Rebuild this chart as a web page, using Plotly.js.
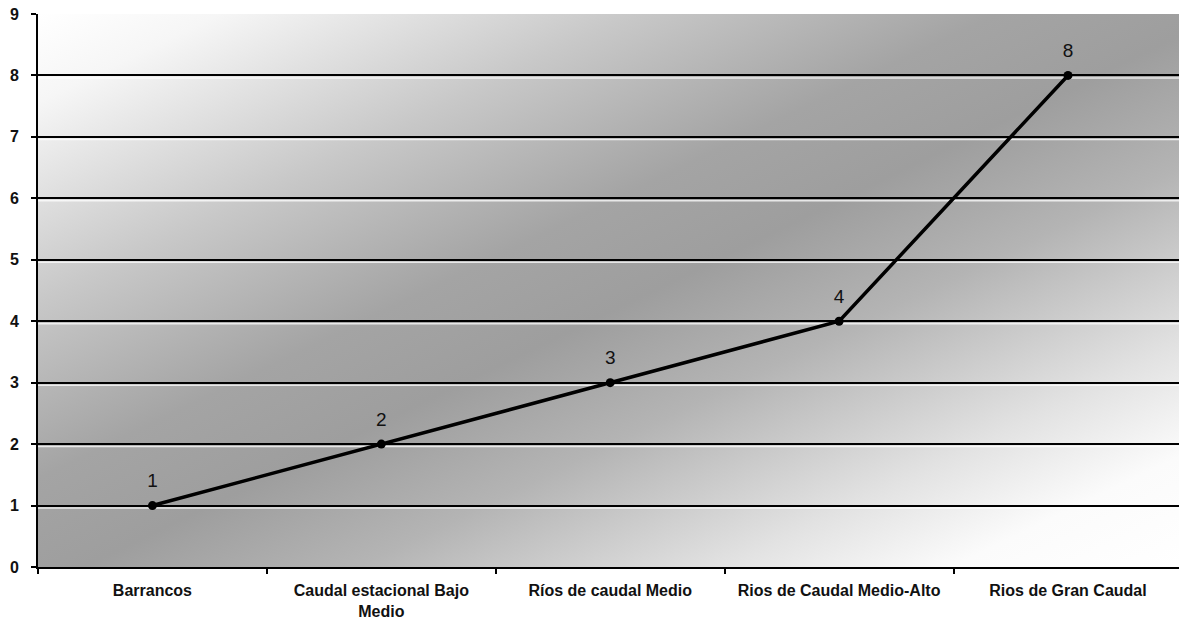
<!DOCTYPE html>
<html>
<head>
<meta charset="utf-8">
<script src="https://cdn.plot.ly/plotly-3.0.1.min.js"></script>
<style>
  html, body { margin: 0; padding: 0; background: #ffffff; }
  #wrap { position: relative; width: 1179px; height: 624px; }
  #bg {
    position: absolute; left: 38px; top: 14px; width: 1141px; height: 553px;
    background: linear-gradient(to bottom right, #ffffff 0%, #f6f6f6 8%, #c8c8c8 26%, #a4a4a4 42%, #9e9e9e 52%, #b4b4b4 64%, #e2e2e2 80%, #fbfbfb 90%, #ffffff 100%);
  }
  #chart { position: absolute; left: 0; top: 0; width: 1179px; height: 624px; }
</style>
</head>
<body>
<div id="wrap">
  <div id="bg"></div>
  <div id="chart"></div>
</div>
<script>
const categories = ["Barrancos", "Caudal estacional Bajo<br>Medio", "Ríos de caudal Medio", "Rios de Caudal Medio-Alto", "Rios de Gran Caudal"];
const values = [1, 2, 3, 4, 8];
const yTicks = [0, 1, 2, 3, 4, 5, 6, 7, 8, 9];

const lineTrace = {
  type: "scatter",
  mode: "lines+markers",
  x: categories,
  y: values,
  line: { color: "#000000", width: 3.5 },
  marker: { color: "#000000", size: 9, symbol: "circle" },
  cliponaxis: false,
  hoverinfo: "skip"
};

const labelTrace = {
  type: "scatter",
  mode: "markers+text",
  x: categories,
  y: values,
  text: values.map(String),
  textposition: "top center",
  textfont: { family: "Liberation Sans, Arial, sans-serif", size: 19, color: "#111111" },
  marker: { size: 20, opacity: 0 },
  cliponaxis: false,
  hoverinfo: "skip"
};

// light highlight just under each gridline (3D look of the original)
const highlightShapes = yTicks.filter(v => v > 0 && v < 9).map(v => ({
  type: "line",
  xref: "paper",
  yref: "y",
  ysizemode: "pixel",
  yanchor: v,
  x0: 0, x1: 1,
  y0: -2.5, y1: -2.5,
  line: { color: "rgba(255,255,255,0.75)", width: 1.5 },
  layer: "below"
}));

const layout = {
  width: 1179,
  height: 624,
  margin: { l: 38, r: 0, t: 14, b: 57, pad: 0 },
  paper_bgcolor: "rgba(0,0,0,0)",
  plot_bgcolor: "rgba(0,0,0,0)",
  showlegend: false,
  font: { family: "Liberation Sans, Arial, sans-serif", color: "#000000" },
  shapes: highlightShapes,
  xaxis: {
    type: "category",
    range: [-0.5, 4.485],
    showgrid: false,
    zeroline: false,
    showline: true,
    linecolor: "#000000",
    linewidth: 2,
    ticks: "outside",
    tickson: "boundaries",
    ticklen: 5,
    tickwidth: 2,
    tickcolor: "#000000",
    ticklabelstandoff: 8,
    tickfont: { family: "Liberation Sans, Arial, sans-serif", size: 16, color: "#111111", weight: "bold" },
    fixedrange: true
  },
  yaxis: {
    range: [0, 9],
    tickvals: yTicks,
    ticktext: yTicks.map(String),
    showgrid: true,
    gridcolor: "#000000",
    gridwidth: 2,
    zeroline: false,
    showline: true,
    linecolor: "#000000",
    linewidth: 2,
    ticks: "outside",
    ticklen: 5,
    tickwidth: 2,
    tickcolor: "#000000",
    ticklabelstandoff: 9,
    tickfont: { family: "Liberation Sans, Arial, sans-serif", size: 16, color: "#111111", weight: "bold" },
    fixedrange: true
  }
};

Plotly.newPlot("chart", [lineTrace, labelTrace], layout, { displayModeBar: false, staticPlot: true });
</script>
</body>
</html>
